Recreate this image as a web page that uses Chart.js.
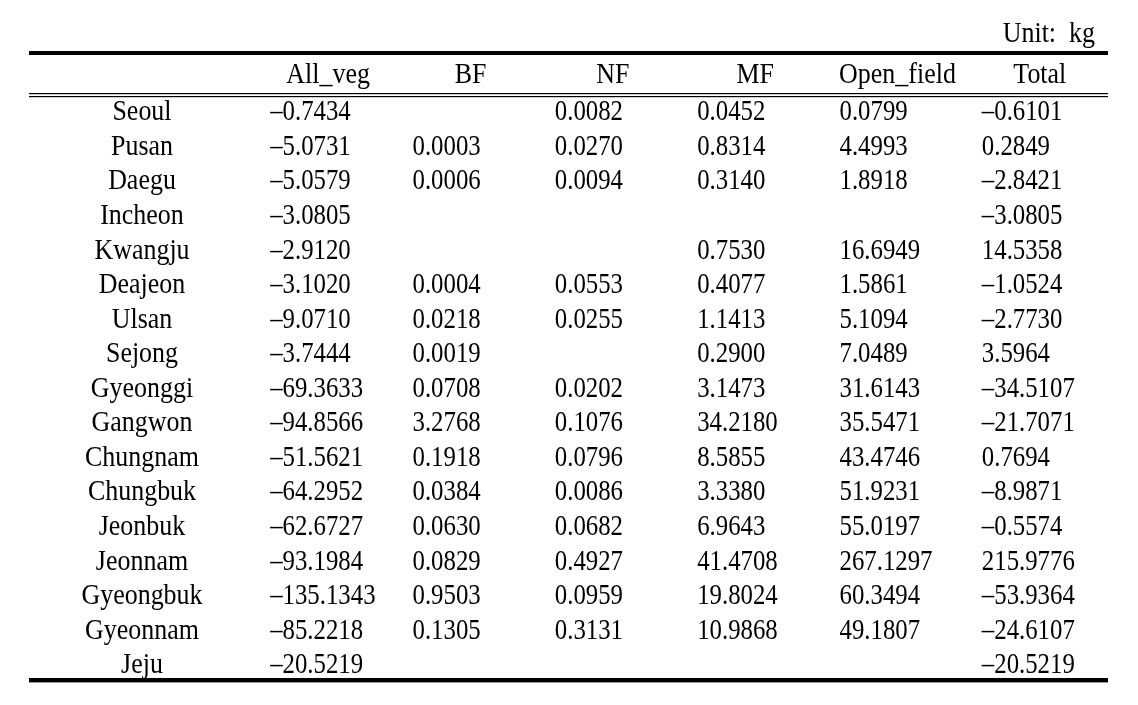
<!DOCTYPE html>
<html>
<head>
<meta charset="utf-8">
<script src="https://cdn.jsdelivr.net/npm/chart.js"></script>
<style>
  html, body { margin: 0; padding: 0; background: #fff; }
  #wrap { width: 1138px; height: 705px; position: relative; }
</style>
</head>
<body>
<div id="wrap"><canvas id="table-chart"></canvas></div>
<script>
// Table data
const regions = ['Seoul', 'Pusan', 'Daegu', 'Incheon', 'Kwangju', 'Deajeon', 'Ulsan', 'Sejong',
  'Gyeonggi', 'Gangwon', 'Chungnam', 'Chungbuk', 'Jeonbuk', 'Jeonnam', 'Gyeongbuk', 'Gyeonnam', 'Jeju'];
const columns = ['All_veg', 'BF', 'NF', 'MF', 'Open_field', 'Total'];
const unitLabel = 'Unit:  kg';

const allVeg = [-0.7434, -5.0731, -5.0579, -3.0805, -2.9120, -3.1020, -9.0710, -3.7444,
  -69.3633, -94.8566, -51.5621, -64.2952, -62.6727, -93.1984, -135.1343, -85.2218, -20.5219];
const bf = [null, 0.0003, 0.0006, null, null, 0.0004, 0.0218, 0.0019,
  0.0708, 3.2768, 0.1918, 0.0384, 0.0630, 0.0829, 0.9503, 0.1305, null];
const nf = [0.0082, 0.0270, 0.0094, null, null, 0.0553, 0.0255, null,
  0.0202, 0.1076, 0.0796, 0.0086, 0.0682, 0.4927, 0.0959, 0.3131, null];
const mf = [0.0452, 0.8314, 0.3140, null, 0.7530, 0.4077, 1.1413, 0.2900,
  3.1473, 34.2180, 8.5855, 3.3380, 6.9643, 41.4708, 19.8024, 10.9868, null];
const openField = [0.0799, 4.4993, 1.8918, null, 16.6949, 1.5861, 5.1094, 7.0489,
  31.6143, 35.5471, 43.4746, 51.9231, 55.0197, 267.1297, 60.3494, 49.1807, null];
const total = [-0.6101, 0.2849, -2.8421, -3.0805, 14.5358, -1.0524, -2.7730, 3.5964,
  -34.5107, -21.7071, 0.7694, -8.9871, -0.5574, 215.9776, -53.9364, -24.6107, -20.5219];

const series = [allVeg, bf, nf, mf, openField, total];

const FONT = '29px "Liberation Serif", "DejaVu Serif", serif';
const NUM_SX = 0.855;   // horizontal squeeze for numbers
const TXT_SX = 0.895;   // horizontal squeeze for words

function fmt(v) {
  return v.toFixed(4).replace('-', '\u2013');
}

function drawText(ctx, str, x, y, align, sx) {
  ctx.save();
  ctx.translate(x, y);
  ctx.scale(sx, 1);
  ctx.textAlign = align;
  ctx.fillText(str, 0, 0);
  ctx.restore();
}

// one invisible point per filled cell; the plugin writes the value at it
const datasets = series.map((values, col) => ({
  label: columns[col],
  data: values
    .map((v, row) => (v === null ? null : { x: col, y: row, v: v }))
    .filter(p => p !== null),
  pointRadius: 0,
  pointHoverRadius: 0,
  showLine: false,
}));

const tablePlugin = {
  id: 'tableText',
  afterDatasetsDraw(chart) {
    const ctx = chart.ctx;
    const area = chart.chartArea;
    const xs = chart.scales.x;
    const ys = chart.scales.y;
    const left = area.left - 228;
    const right = area.right - 3;

    ctx.save();
    ctx.fillStyle = '#000';
    ctx.font = FONT;
    ctx.textBaseline = 'alphabetic';

    // unit label
    drawText(ctx, unitLabel, area.right - 16, area.top - 17, 'right', TXT_SX);

    // rules
    ctx.fillRect(left, area.top - 8, right - left, 4);
    const yd = Math.round(ys.getPixelForValue(-0.5));
    ctx.fillRect(left, yd - 1, right - left, 1.2);
    ctx.fillRect(left, yd + 2, right - left, 1.2);
    ctx.fillRect(left, area.bottom - 3, right - left, 4.4);

    // header
    const hy = ys.getPixelForValue(-1) + 6.5;
    columns.forEach((c, i) => {
      drawText(ctx, c, xs.getPixelForValue(i), hy, 'center', TXT_SX);
    });

    // row labels
    regions.forEach((r, i) => {
      drawText(ctx, r, area.left - 115, ys.getPixelForValue(i) + 9.5, 'center', TXT_SX);
    });

    // cell values
    chart.data.datasets.forEach((ds, di) => {
      const meta = chart.getDatasetMeta(di);
      meta.data.forEach((pt, i) => {
        drawText(ctx, fmt(ds.data[i].v), pt.x - 58, pt.y + 9.5, 'left', NUM_SX);
      });
    });
    ctx.restore();
  }
};

new Chart(document.getElementById('table-chart'), {
  type: 'scatter',
  data: { datasets: datasets },
  options: {
    responsive: true,
    maintainAspectRatio: false,
    animation: false,
    events: [],
    layout: { padding: { left: 257, right: 27, top: 59, bottom: 24 } },
    scales: {
      x: { type: 'linear', min: -0.5, max: 5.5, display: false },
      y: { type: 'linear', min: -1.5, max: 16.5, reverse: true, display: false }
    },
    plugins: {
      legend: { display: false },
      tooltip: { enabled: false },
    },
  },
  plugins: [tablePlugin],
});
</script>
</body>
</html>
